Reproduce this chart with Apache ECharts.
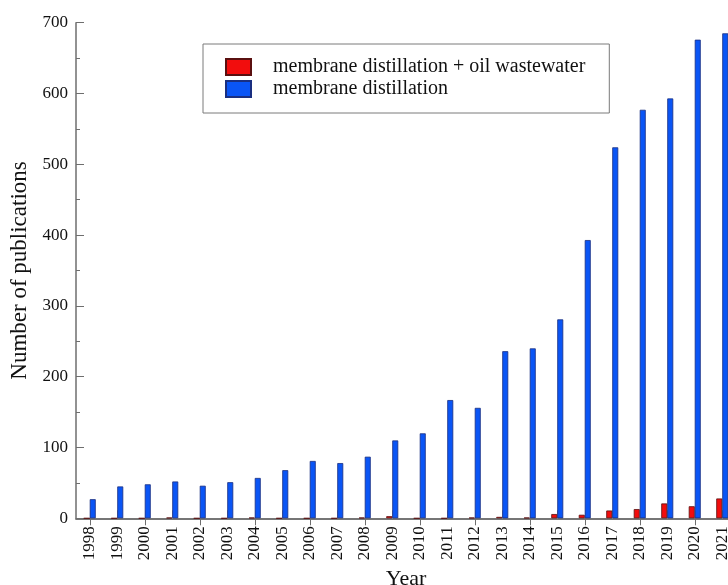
<!DOCTYPE html>
<html>
<head>
<meta charset="utf-8">
<script src="https://cdn.jsdelivr.net/npm/echarts@6/dist/echarts.min.js"></script>
<style>
  html, body { margin: 0; padding: 0; background: #fff; }
  #chart { width: 728px; height: 585px; }
</style>
</head>
<body>
<div id="chart"></div>
<script>
// Publications per year, 1998-2021
const years = ['1998','1999','2000','2001','2002','2003','2004','2005','2006','2007','2008','2009',
               '2010','2011','2012','2013','2014','2015','2016','2017','2018','2019','2020','2021'];
const oilWastewater = [0, 0, 0, 1, 0, 0, 1, 0, 0, 0, 1, 3, 0, 0, 1, 2, 1, 6, 5, 11, 13, 21, 17, 28];
const membraneDistillation = [27, 45, 48, 52, 46, 51, 57, 68, 81, 78, 87, 110, 120, 167, 156, 236, 240,
                              281, 393, 524, 577, 593, 676, 685];
const seriesNames = ['membrane distillation + oil wastewater', 'membrane distillation'];

const FONT = '"Liberation Serif", "DejaVu Serif", serif';
const AXIS = '#6e6e6e';

const chart = echarts.init(document.getElementById('chart'), null, { renderer: 'canvas' });

chart.setOption({
  animation: false,
  backgroundColor: '#ffffff',
  textStyle: { fontFamily: FONT },
  grid: { left: 76, top: 22.7, width: 660, bottom: 66.7, containLabel: false, outerBoundsMode: 'none' },
  legend: {
    orient: 'vertical',
    left: 203,
    top: 44,
    padding: [13, 24, 14, 22],
    itemGap: 2,
    itemWidth: 25,
    itemHeight: 16,
    icon: 'rect',
    borderColor: '#7a7a7a',
    borderWidth: 1,
    backgroundColor: '#ffffff',
    textStyle: { fontFamily: FONT, fontSize: 20, color: '#111', lineHeight: 20, padding: [0, 0, 0, 17] },
    data: seriesNames
  },
  xAxis: [
    {
      type: 'category',
      data: years,
      position: 'bottom',
      boundaryGap: true,
      name: 'Year',
      nameLocation: 'middle',
      nameGap: 45,
      nameTextStyle: { fontFamily: FONT, fontSize: 22, color: '#111' },
      axisLine: { lineStyle: { color: AXIS, width: 1.5 } },
      axisTick: { show: true, inside: true, alignWithLabel: true, length: 8, lineStyle: { color: '#a0a0a0', width: 1 } },
      axisLabel: { rotate: 90, margin: 8, fontFamily: FONT, fontSize: 17, color: '#111', interval: 0 },
      splitLine: { show: false }
    },
    {
      type: 'category',
      data: years,
      position: 'top',
      boundaryGap: true,
      axisLine: { lineStyle: { color: AXIS, width: 1.5 } },
      axisTick: { show: true, inside: true, alignWithLabel: true, length: 7, lineStyle: { color: AXIS, width: 1 } },
      axisLabel: { show: false },
      splitLine: { show: false }
    }
  ],
  yAxis: [
    {
      type: 'value',
      min: 0,
      max: 700,
      interval: 100,
      position: 'left',
      name: 'Number of publications',
      nameLocation: 'middle',
      nameGap: 42,
      nameTextStyle: { fontFamily: FONT, fontSize: 23, color: '#111' },
      axisLine: { show: true, lineStyle: { color: AXIS, width: 1.5 } },
      axisTick: { show: true, inside: true, length: 8, lineStyle: { color: AXIS, width: 1 } },
      minorTick: { show: true, splitNumber: 2, length: 4, lineStyle: { color: AXIS, width: 1 } },
      axisLabel: { margin: 8, fontFamily: FONT, fontSize: 17, color: '#111' },
      splitLine: { show: false }
    },
    {
      type: 'value',
      min: 0,
      max: 700,
      interval: 100,
      position: 'right',
      axisLine: { show: true, lineStyle: { color: AXIS, width: 1.5 } },
      axisTick: { show: true, inside: true, length: 8, lineStyle: { color: AXIS, width: 1 } },
      axisLabel: { show: false },
      splitLine: { show: false }
    }
  ],
  series: [
    {
      name: seriesNames[0],
      type: 'bar',
      data: oilWastewater,
      barWidth: 6,
      barGap: '0%',
      itemStyle: { color: '#f20d0d', borderColor: '#5a1010', borderWidth: 0.8 }
    },
    {
      name: seriesNames[1],
      type: 'bar',
      data: membraneDistillation,
      barWidth: 6,
      barGap: '0%',
      itemStyle: { color: '#0a55f5', borderColor: '#1a2f80', borderWidth: 0.8 }
    }
  ]
});
</script>
</body>
</html>
